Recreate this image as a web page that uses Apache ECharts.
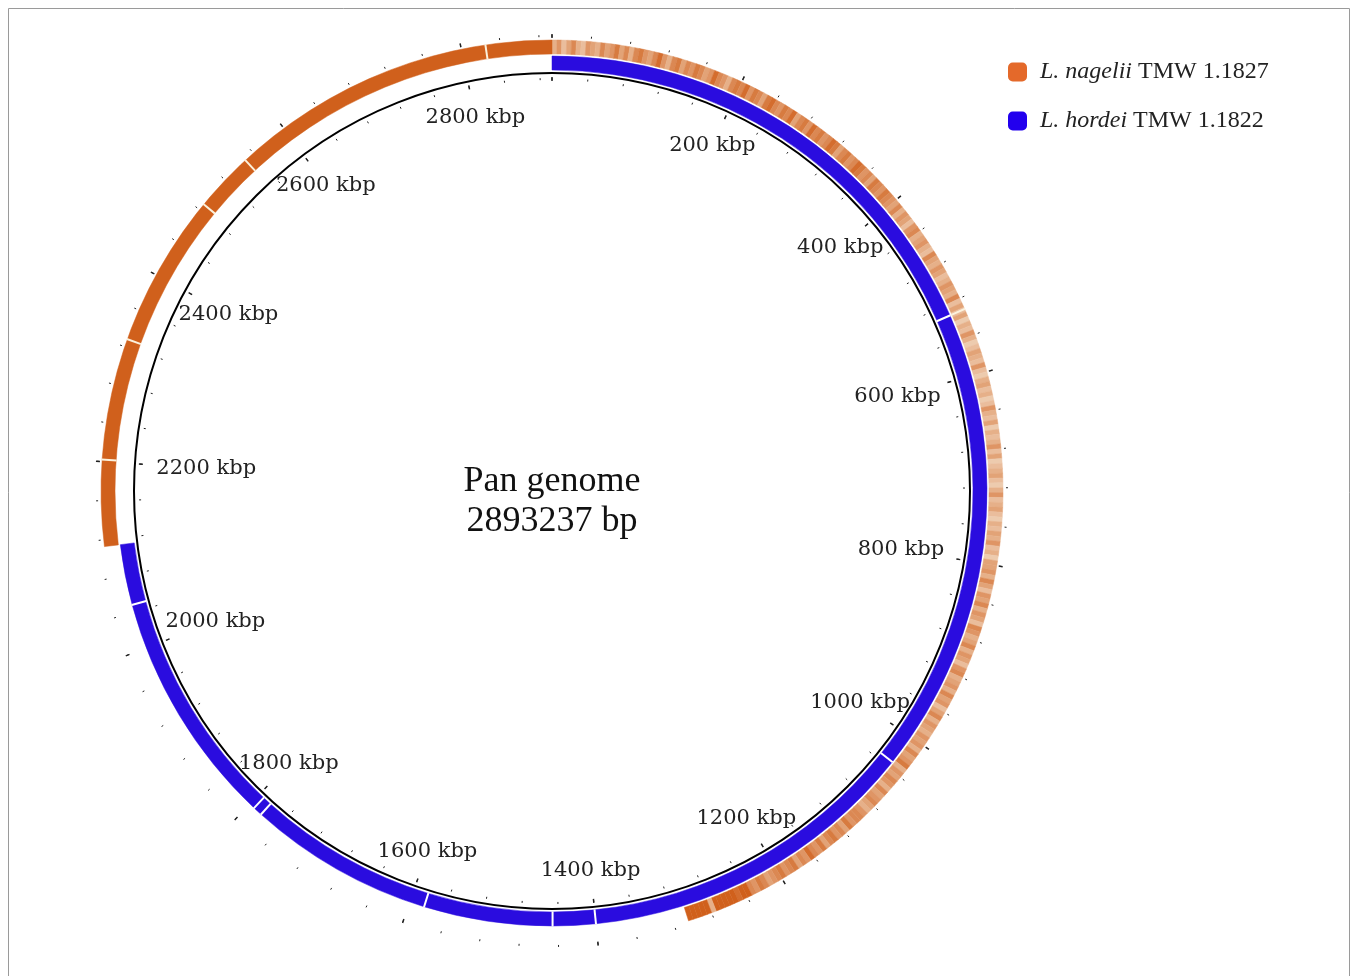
<!DOCTYPE html>
<html>
<head>
<meta charset="utf-8">
<title>Pan genome</title>
<script src="https://cdn.jsdelivr.net/npm/echarts@6/dist/echarts.min.js"></script>
<style>
  html, body { margin: 0; padding: 0; background: #fff; }
  #chart { width: 1358px; height: 976px; }
</style>
</head>
<body>
<div id="chart"></div>
<script>
// ---- data -------------------------------------------------------------
const genomeLength = 2893237;                  // bp
const tickLabelsKbp = [200, 400, 600, 800, 1000, 1200, 1400, 1600, 1800, 2000, 2200, 2400, 2600, 2800];

// L. hordei contigs on the pan genome backbone (kbp)
const hordeiBlocksKbp = [[0, 532], [532, 1033], [1033, 1400], [1400, 1446], [1446, 1584],
                         [1584, 1784], [1784, 1794], [1794, 2048], [2048, 2113]];
const hordeiBreaksKbp = [532, 1033, 1400, 1446, 1584, 1784, 1794, 2048];

// L. nagelii specific region (full identity) and its contig breaks (kbp)
const nageliiCoreKbp = [[2113, 2893.237]];
const nageliiBreaksKbp = [532, 2202, 2328, 2487, 2549, 2825];

// L. nagelii BLAST identity shade (0 light .. 9 dark) in 5 kbp bins from 0 kbp
const nageliiBinKbp = 5;
const nageliiIdentity = [
  3,5,2,4,6,3,2,5,4,3,6,4,
  5,7,4,6,3,6,7,5,4,6,8,5,3,6,7,4,6,5,7,6,4,5,8,6,5,3,6,7,
  6,8,5,7,6,4,7,8,6,5,7,6,8,4,6,7,5,8,6,7,5,6,8,7,4,6,7,5,6,8,7,5,6,4,7,6,5,7,6,5,
  4,6,3,5,4,2,5,6,3,4,5,3,2,6,4,3,5,4,2,3,5,4,3,6,2,4,
  2,4,1,3,2,5,3,1,2,4,3,2,5,2,1,3,4,2,3,1,2,5,3,2,4,1,3,2,3,5,2,4,1,2,3,4,2,1,3,5,2,3,4,2,1,3,2,4,3,5,2,3,1,4,
  4,5,3,6,4,2,5,4,6,3,5,4,2,6,5,3,4,6,3,5,4,2,5,6,3,4,5,3,6,4,5,2,4,6,3,5,4,3,5,4,
  5,3,6,4,5,7,3,5,4,6,5,3,6,4,5,6,4,3,5,6,
  6,5,7,4,6,5,7,6,4,7,5,6,8,5,6,4,7,6,5,7,6,5,4,6,7,5,6,
  9,9,8,9,9,9,9,9,3,9,9,9,9,9
];

// ---- layout & style ---------------------------------------------------
const CENTER = [552, 491];
const RING_SPACE = 460;                 // radius axis of the ring polar, in px
const HORDEI_R = [421, 435];
const NAGELII_R = [437, 451];
const HORDEI_COLOR = '#2a0cdf';
const NAGELII_DARK = [208, 96, 28];
const NAGELII_LIGHT = [241, 216, 192];
const LEGEND_ORANGE = '#e4692a';
const LEGEND_BLUE = '#2200ee';
const SERIF = 'Liberation Serif, Times New Roman, serif';
const LABEL_FONT = 'DejaVu Serif, serif';

const NAGELII = 'L. nagelii TMW 1.1827';
const HORDEI = 'L. hordei TMW 1.1822';

function shade(level) {
  const t = level / 9;
  const c = NAGELII_LIGHT.map((l, i) => Math.round(l + (NAGELII_DARK[i] - l) * t));
  return 'rgb(' + c.join(',') + ')';
}

function sector(params, api, startBp, endBp, r0, r1, fill) {
  const cx = params.coordSys.cx, cy = params.coordSys.cy;
  const a = api.coord([r1, startBp]);
  const b = api.coord([r1, endBp]);
  const c = api.coord([r0, startBp]);
  let a0 = Math.atan2(a[1] - cy, a[0] - cx);
  let a1 = Math.atan2(b[1] - cy, b[0] - cx);
  if (a1 <= a0) a1 += Math.PI * 2;
  return {
    type: 'sector',
    shape: {
      cx: cx, cy: cy,
      r0: Math.hypot(c[0] - cx, c[1] - cy),
      r: Math.hypot(a[0] - cx, a[1] - cy),
      startAngle: a0, endAngle: a1, clockwise: true
    },
    style: { fill: fill, stroke: fill, lineWidth: 0.5 }
  };
}

function radialLine(api, bp, r0, r1, color, width) {
  const p = api.coord([r0, bp]);
  const q = api.coord([r1, bp]);
  return {
    type: 'line',
    shape: { x1: p[0], y1: p[1], x2: q[0], y2: q[1] },
    style: { stroke: color, lineWidth: width }
  };
}

// polar systems: backbone, tick rings and the ring space
const polarDefs = [
  { radius: 418, interval: null },                     // 0 backbone circle
  { radius: 413, interval: 40000, len: 2, w: 1 },      // 1 inner minor ticks
  { radius: 414, interval: 200000, len: 4, w: 1.5 },   // 2 inner major ticks
  { radius: 456, interval: 40000, len: 2, w: 1 },      // 3 outer minor ticks
  { radius: 457, interval: 200000, len: 4, w: 1.5 },   // 4 outer major ticks
  { radius: RING_SPACE, interval: null }               // 5 rings and labels
];

const polar = polarDefs.map(d => ({ center: CENTER, radius: d.radius }));
const angleAxis = polarDefs.map((d, i) => ({
  polarIndex: i,
  type: 'value',
  min: 0,
  max: genomeLength,
  interval: d.interval || 200000,
  startAngle: 90,
  clockwise: true,
  axisLine: { show: i === 0, lineStyle: { color: '#000', width: 2 } },
  axisTick: { show: !!d.len, inside: true, length: d.len || 0, lineStyle: { color: '#222', width: d.w || 1 } },
  minorTick: { show: false },
  axisLabel: { show: false },
  splitLine: { show: false },
  silent: true
}));
const radiusAxis = polarDefs.map((d, i) => ({
  polarIndex: i,
  type: 'value',
  min: 0,
  max: d.radius,
  axisLine: { show: false },
  axisTick: { show: false },
  axisLabel: { show: false },
  splitLine: { show: false },
  silent: true
}));

// ring data built from the arrays above
const nageliiData = nageliiIdentity.map((lv, i) =>
  [0, i * nageliiBinKbp * 1000, (i + 1) * nageliiBinKbp * 1000, lv]);
nageliiCoreKbp.forEach(b => nageliiData.push([0, b[0] * 1000, b[1] * 1000, 9]));
const hordeiData = hordeiBlocksKbp.map(b => [0, b[0] * 1000, b[1] * 1000]);
const labelData = tickLabelsKbp.map(k => [0, k * 1000]);

const option = {
  animation: false,
  backgroundColor: '#fff',
  polar: polar,
  angleAxis: angleAxis,
  radiusAxis: radiusAxis,
  legend: {
    orient: 'vertical',
    left: 1008,
    top: 60,
    padding: 0,
    itemWidth: 19,
    itemHeight: 19,
    itemGap: 25,
    icon: 'roundRect',
    selectedMode: false,
    data: [
      { name: NAGELII, itemStyle: { color: LEGEND_ORANGE } },
      { name: HORDEI, itemStyle: { color: LEGEND_BLUE } }
    ],
    formatter: function (name) {
      const cut = name.indexOf(' TMW');
      return '{i|' + name.slice(0, cut) + '}' + name.slice(cut);
    },
    textStyle: {
      fontFamily: SERIF,
      fontSize: 24,
      color: '#222',
      padding: [0, 0, 0, 8],
      rich: { i: { fontFamily: SERIF, fontSize: 24, fontStyle: 'italic', color: '#222' } }
    }
  },
  graphic: [
    {
      type: 'rect',
      shape: { x: 8.5, y: 8.5, width: 1341, height: 1000 },
      style: { fill: 'none', stroke: '#9a9a9a', lineWidth: 1 },
      silent: true
    },
    {
      type: 'text',
      x: CENTER[0],
      y: 502,
      style: {
        text: 'Pan genome\n2893237 bp',
        align: 'center',
        verticalAlign: 'middle',
        fontFamily: SERIF,
        fontSize: 36,
        lineHeight: 40,
        fill: '#111'
      },
      silent: true
    }
  ],
  series: [
    {
      name: HORDEI,
      type: 'custom',
      coordinateSystem: 'polar',
      polarIndex: 5,
      itemStyle: { color: LEGEND_BLUE },
      encode: { radius: 0, angle: 1 },
      silent: true,
      data: hordeiData,
      renderItem: function (params, api) {
        return sector(params, api, api.value(1), api.value(2), HORDEI_R[0], HORDEI_R[1], HORDEI_COLOR);
      }
    },
    {
      name: NAGELII,
      type: 'custom',
      coordinateSystem: 'polar',
      polarIndex: 5,
      itemStyle: { color: LEGEND_ORANGE },
      encode: { radius: 0, angle: 1 },
      silent: true,
      data: nageliiData,
      renderItem: function (params, api) {
        return sector(params, api, api.value(1), api.value(2), NAGELII_R[0], NAGELII_R[1], shade(api.value(3)));
      }
    },
    {
      name: 'contig breaks',
      type: 'custom',
      coordinateSystem: 'polar',
      polarIndex: 5,
      encode: { radius: 0, angle: 1 },
      silent: true,
      data: hordeiBreaksKbp.map(k => [0, k * 1000, 0])
        .concat(nageliiBreaksKbp.map(k => [0, k * 1000, 1])),
      renderItem: function (params, api) {
        const r = api.value(2) === 0 ? HORDEI_R : NAGELII_R;
        const col = api.value(2) === 0 ? '#ffffff' : '#fbf1dc';
        return radialLine(api, api.value(1), r[0] - 0.5, r[1] + 0.5, col, 2);
      }
    },
    {
      name: 'scale labels',
      type: 'custom',
      coordinateSystem: 'polar',
      polarIndex: 5,
      encode: { radius: 0, angle: 1 },
      silent: true,
      data: labelData,
      renderItem: function (params, api) {
        const bp = api.value(1);
        const cx = params.coordSys.cx;
        const edge = api.coord([RING_SPACE, bp]);
        const s = Math.abs(edge[0] - cx) / RING_SPACE;
        const text = Math.round(bp / 1000) + ' kbp';
        const halfW = (String(Math.round(bp / 1000)).length * 13.3 + 47) / 2;
        const rc = 381 - 0.7 * halfW * Math.pow(s, 8);
        const p = api.coord([rc, bp]);
        return {
          type: 'text',
          x: p[0],
          y: p[1],
          style: {
            text: text,
            align: 'center',
            verticalAlign: 'middle',
            fontFamily: LABEL_FONT,
            fontSize: 21,
            fill: '#222'
          }
        };
      }
    }
  ]
};

const chart = echarts.init(document.getElementById('chart'));
chart.setOption(option);
</script>
</body>
</html>
